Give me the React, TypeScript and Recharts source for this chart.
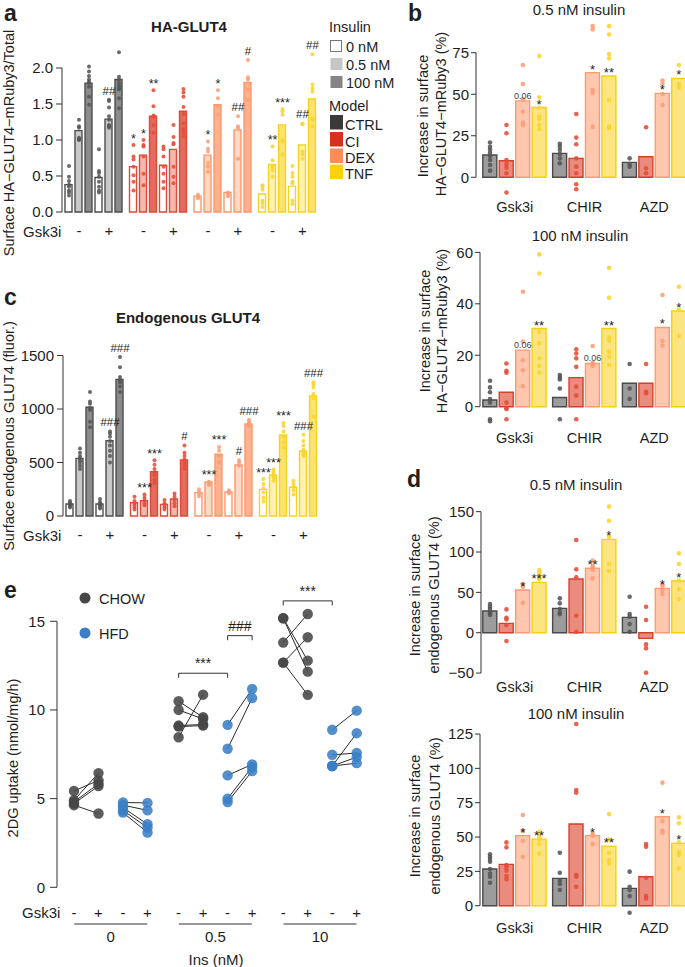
import React from "react";
import {
  ComposedChart,
  Bar,
  Scatter,
  XAxis,
  YAxis,
  ReferenceLine,
  Cell,
  LabelList,
} from "recharts";

const FONT = "'Liberation Sans', Arial, Helvetica, sans-serif";
const PAGE_W = 685;
const PAGE_H = 967;
const INK = "#1e1e1e";
const AXIS = "#333333";

const models = ["CTRL", "CI", "DEX", "TNF"];
const insulinLevels = ["0 nM", "0.5 nM", "100 nM"];
const gsk3iSigns = ["-", "+"];
const drugs = ["Gsk3i", "CHIR", "AZD"];
const uptakeIns = ["0", "0.5", "10"];

// a: surface HA-GLUT4-mRuby3 / total. per model: 0, 0.5, 100 nM (-Gsk3i), then 0, 0.5, 100 nM (+Gsk3i)
const haTicks = [0, 0.5, 1, 1.5, 2];
const haMeans = [
  [0.38, 1.13, 1.79, 0.48, 1.29, 1.84],
  [0.63, 0.79, 1.33, 0.65, 0.87, 1.4],
  [0.22, 0.79, 1.49, 0.27, 1.14, 1.8],
  [0.25, 0.66, 1.21, 0.36, 0.93, 1.57],
];
const haDots = [
  [
    [0.64, 0.49, 0.43, 0.38, 0.35, 0.3, 0.27, 0.23],
    [1.28, 1.19, 1.17, 1.03, 1.01, 1.0],
    [2.02, 1.95, 1.89, 1.84, 1.81, 1.79, 1.74, 1.6, 1.49],
    [0.87, 0.57, 0.54, 0.49, 0.42, 0.35, 0.3, 0.27],
    [1.56, 1.54, 1.45, 1.33, 1.28, 1.21, 1.19, 1.17],
    [2.22, 1.88, 1.84, 1.79, 1.75, 1.72, 1.7, 1.58, 1.44],
  ],
  [
    [0.93, 0.77, 0.73, 0.63, 0.51, 0.42, 0.3],
    [1.0, 0.93, 0.91, 0.77, 0.53, 0.37],
    [1.69, 1.47, 1.34, 1.32, 1.21, 1.1],
    [0.91, 0.87, 0.77, 0.63, 0.53, 0.42, 0.33],
    [1.21, 1.04, 0.96, 0.94, 0.63, 0.49, 0.4],
    [1.71, 1.66, 1.6, 1.46, 1.36, 1.23, 1.15, 1.1, 1.05],
  ],
  [
    [0.24, 0.21, 0.19],
    [0.98, 0.88, 0.84, 0.68, 0.63, 0.56],
    [1.69, 1.58, 1.47, 1.35],
    [0.27, 0.24, 0.22],
    [1.33, 1.19, 1.16, 0.74],
    [2.11, 1.87, 1.84, 1.7, 1.56],
  ],
  [
    [0.37, 0.35, 0.31, 0.16, 0.12, 0.07],
    [0.91, 0.72, 0.63, 0.6, 0.58, 0.49],
    [1.43, 1.4, 1.35, 1.0, 0.98, 0.8],
    [0.64, 0.54, 0.49, 0.42, 0.4, 0.16, 0.11],
    [1.23, 1.22, 0.84, 0.8, 0.74],
    [2.19, 1.77, 1.72, 1.67, 1.3, 1.28, 1.19],
  ],
];
const haSig = [
  ["", "", "", "", "##", ""],
  ["*", "*", "**", "", "", ""],
  ["", "*", "*", "", "##", "#"],
  ["", "**", "***", "", "##", "##"],
];

// c: endogenous GLUT4, same layout as a
const endoTicks = [0, 500, 1000, 1500];
const endoMeans = [
  [112, 539, 1016, 112, 704, 1277],
  [124, 143, 414, 109, 159, 523],
  [218, 318, 577, 224, 477, 860],
  [249, 383, 757, 268, 607, 1121],
];
const endoDots = [
  [
    [140, 125, 110, 100, 90, 80],
    [630, 590, 560, 540, 520, 500, 470, 440],
    [1160, 1070, 1050, 1010, 990, 880, 830],
    [160, 130, 115, 100, 85, 70],
    [790, 770, 740, 700, 660, 610, 560, 500],
    [1485, 1390, 1300, 1270, 1250, 1210, 1160],
  ],
  [
    [180, 140, 120, 100, 80, 60],
    [200, 170, 145, 120, 100],
    [520, 480, 440, 410, 380, 340, 310],
    [150, 120, 100, 80, 60],
    [210, 180, 150, 120, 90],
    [660, 590, 560, 530, 500, 470, 440],
  ],
  [
    [250, 225, 205, 185],
    [320, 310, 300, 290],
    [645, 610, 560, 500],
    [240, 225, 210],
    [520, 500, 470],
    [900, 880, 860, 840],
  ],
  [
    [345, 300, 260, 220, 170, 135],
    [435, 410, 385, 360, 330],
    [870, 840, 790, 740, 690, 640],
    [330, 300, 270, 240, 200],
    [760, 700, 660, 620, 600, 580, 560],
    [1250, 1230, 1200, 1140, 1100, 930],
  ],
];
const endoSig = [
  ["", "", "", "", "###", "###"],
  ["", "***", "***", "", "", "#"],
  ["", "***", "***", "", "#", "###"],
  ["***", "***", "***", "", "###", "###"],
];

// b: increase in surface HA-GLUT4 (%), rows = drug, cols = model
const haInc05Ticks = [0, 25, 50, 75];
const haInc05Means = [
  [13.4, 10.0, 46.0, 42.0],
  [14.4, 11.4, 63.0, 61.0],
  [9.0, 12.4, 50.5, 59.5],
];
const haInc05Dots = [
  [
    [20.9, 18.4, 16.8, 14.8, 12.8, 10.4, 7.4, 4.0],
    [31.5, 26.5, 10.4, 8.0, 5.8, 2.4, -9.2],
    [67.6, 56.1, 46.9, 39.5, 32.9, 31.5],
    [73.0, 48.1, 41.9, 36.5, 34.9, 31.5, 28.9],
  ],
  [
    [20.1, 18.4, 16.4, 14.0, 11.4, 8.4],
    [38.1, 23.9, 19.9, 11.4, 6.4, 2.4, -4.2, -7.2],
    [91.0, 89.0, 52.5, 50.9, 30.5],
    [91.0, 86.0, 74.2, 71.6, 46.5, 30.5, 29.5],
  ],
  [
    [11.4, 8.0, 6.4],
    [30.1, 5.4, 2.4],
    [58.2, 56.1, 50.1, 43.5],
    [67.6, 56.1, 54.1],
  ],
];
const haInc05Sig = [
  ["", "", "0.06", "*"],
  ["", "", "*", "**"],
  ["", "", "*", "*"],
];

const haInc100Ticks = [0, 20, 40, 60];
const haInc100Means = [
  [2.6, 5.6, 22.0, 30.4],
  [3.6, 11.3, 16.8, 30.4],
  [9.1, 9.1, 30.8, 37.2],
];
const haInc100Dots = [
  [
    [10.1, 7.5, 5.6, 3.0, 1.6, -4.9, -5.6],
    [16.8, 14.0, 13.2, 1.6, -0.6, -0.9, -4.9],
    [44.7, 25.3, 18.1, 14.2, 8.0],
    [59.2, 51.8, 29.1, 24.6, 18.8, 15.9, 13.3],
  ],
  [
    [12.3, 11.4, 10.6, 7.1, -4.9],
    [22.3, 20.7, 18.8, 15.5, 7.8, 4.3, -4.9],
    [23.6, 17.1, 16.6, 15.9],
    [54.0, 42.4, 26.9, 25.6, 21.4, 19.4, 16.2],
  ],
  [
    [16.6, 7.1, 3.0],
    [16.6, 5.8, 5.2],
    [43.4, 25.5, 23.7],
    [46.6, 37.6, 27.6],
  ],
];
const haInc100Sig = [
  ["", "", "0.06", "**"],
  ["", "", "0.06", "**"],
  ["", "", "*", "*"],
];

// d: increase in surface endogenous GLUT4 (%)
const endoInc05Ticks = [-50, 0, 50, 100, 150];
const endoInc05Means = [
  [26.9, 11.6, 52.9, 62.4],
  [30.2, 66.5, 79.8, 115.7],
  [19.0, -7.0, 55.0, 64.0],
];
const endoInc05Dots = [
  [
    [35.5, 32.2, 29.3, 26.0, 24.0, 21.9],
    [28.9, 18.6, 16.5, 9.5, -10.3],
    [59.9, 57.0, 37.2],
    [77.7, 74.8, 71.5, 67.4, 66.5],
  ],
  [
    [42.6, 36.4, 29.3, 24.8, 23.1],
    [114.9, 78.5, 68.6, 21.1, 1.2],
    [89.3, 82.6, 80.6, 77.7, 67.4],
    [156.2, 138.8, 119.0, 85.1, 76.4],
  ],
  [
    [44.6, 23.1, 19.8, 10.7, 1.2],
    [32.2, 15.7, -14.5, -19.4, -49.6],
    [59.9, 57.9, 52.9, 47.9],
    [98.3, 85.1, 64.5, 53.7, 41.7],
  ],
];
const endoInc05Sig = [
  ["", "", "*", "***"],
  ["", "", "**", "*"],
  ["", "", "*", "*"],
];

const endoInc100Ticks = [0, 25, 50, 75, 100, 125];
const endoInc100Means = [
  [26.7, 30.1, 51.0, 48.5],
  [19.9, 59.5, 51.0, 43.4],
  [12.6, 21.1, 64.8, 45.4],
];
const endoInc100Dots = [
  [
    [37.4, 35.7, 34.0, 32.0, 26.7, 23.5, 21.1, 16.7],
    [46.1, 42.5, 29.6, 27.9, 25.5, 21.6, 19.2],
    [66.0, 54.4, 47.3, 35.7],
    [53.9, 52.2, 50.2, 48.3, 44.9, 38.1],
  ],
  [
    [38.6, 24.0, 18.2, 15.8, 11.4],
    [132.3, 84.2, 82.3, 22.3, 21.1, 13.8],
    [52.2, 51.0, 45.0],
    [66.7, 48.3, 38.6, 33.3, 30.8],
  ],
  [
    [24.8, 13.8, 11.4, 7.0, -5.1],
    [44.9, 43.0, 20.4, 7.0, 5.3],
    [89.6, 61.7, 54.6, 53.2],
    [64.3, 60.0, 46.1, 38.8, 36.9, 27.2],
  ],
];
const endoInc100Sig = [
  ["", "", "*", "**"],
  ["", "", "*", "**"],
  ["", "", "*", "*"],
];

// e: 2DG uptake, paired (-Gsk3i, +Gsk3i) per insulin dose
const uptakeTicks = [0, 5, 10, 15];
const chowPairs = [
  [[5.43, 6.03], [4.91, 6.44], [4.81, 5.84], [4.72, 5.71], [4.63, 4.16]],
  [[10.49, 9.59], [10.0, 9.49], [9.12, 9.18], [9.06, 9.12], [8.46, 10.86]],
  [[15.17, 12.78], [15.17, 12.16], [13.8, 15.41], [12.67, 14.1], [12.67, 10.85]],
];
const hfdPairs = [
  [[4.78, 4.76], [4.63, 4.34], [4.49, 3.56], [4.34, 3.37], [4.21, 3.09]],
  [[9.16, 11.18], [7.81, 10.67], [6.31, 6.93], [5.0, 6.78], [4.81, 6.55]],
  [[8.88, 9.96], [6.84, 8.69], [7.47, 7.57], [6.84, 7.34], [6.84, 7.0]],
];
// [dose, slot] to [dose, slot], bracket height, label
const uptakeBrackets = [
  { from: [1, 0], to: [1, 2], y: 12.07, label: "***" },
  { from: [1, 2], to: [1, 3], y: 14.19, label: "###" },
  { from: [2, 0], to: [2, 2], y: 16.15, label: "***" },
];

const modelColor = ["#3a3a3a", "#d7301f", "#fc8d59", "#fdd20a"];
const levelFill = [
  ["#ffffff", "#c9c9c9", "#8b8b8b"],
  ["#ffffff", "#f4b8ae", "#e46b5d"],
  ["#ffffff", "#fed9c6", "#fdb18f"],
  ["#ffffff", "#fef1b3", "#fce36e"],
];
const levelStroke = ["#4d4d4d", "#dd4a37", "#fc976a", "#f8d21c"];
const dotColor = ["#555555", "#e24c39", "#fc9d77", "#fbd430"];
const incFill = ["#9c9c9c", "#e98b7d", "#fec7ae", "#fce581"];
const incStroke = ["#4a4a4a", "#d73f2b", "#fc9b70", "#f6d00c"];
const chowColor = "#474747";
const hfdColor = "#3b80c6";

const dotShape = (r: number, color: string) => (p: any) =>
  <circle cx={p.cx} cy={p.cy} r={r} fill={color} fillOpacity={0.88} />;
const noShape = () => <g />;

const sigShape = (p: any) => {
  const label = p.payload?.label ?? "";
  const hash = label.includes("#");
  return (
    <text x={p.cx} y={p.cy - (hash ? 5 : 2.5)} textAnchor="middle" fontSize={hash ? 11.5 : 12.5} fill={INK}>
      {label}
    </text>
  );
};

const barSigLabel = (p: any) => {
  if (!p.value) return null;
  const cx = p.x + p.width / 2;
  if (p.value === "0.06") {
    return <text x={cx} y={p.y - 2} textAnchor="middle" fontSize={9} fill="#444">{p.value}</text>;
  }
  return <text x={cx} y={p.y + 1} textAnchor="middle" fontSize={13} fill={INK}>{p.value}</text>;
};

const negFmt = (v: number) => (v < 0 ? "\u2212" + Math.abs(v) : String(v));

function InsulinPanel({ means, dots, sig, ticks, domain, box, fmt }: any) {
  const pos = (m: number, k: number) => m * 6.45 + k;
  const rows = means.flatMap((row: number[], m: number) => row.map((v, k) => ({ x: pos(m, k), y: v, m, k })));
  const dotRows = (m: number) =>
    dots[m].flatMap((set: number[], k: number) => set.map((v) => ({ x: pos(m, k), y: v })));
  const sigRows = means
    .flatMap((row: number[], m: number) =>
      row.map((_, k) => ({ x: pos(m, k), y: Math.max(...dots[m][k]), label: sig[m][k] })))
    .filter((r: any) => r.label);
  const xTicks = models.flatMap((_, m) => [pos(m, 1), pos(m, 4)]);
  const xAxisH = 30;
  return (
    <div style={{ position: "absolute", left: 0, top: 0 }}>
      <ComposedChart
        width={PAGE_W}
        height={PAGE_H}
        data={rows}
        margin={{ left: 0, top: box.top, right: PAGE_W - box.right, bottom: PAGE_H - box.bottom - xAxisH }}
      >
        <XAxis
          type="number"
          dataKey="x"
          domain={[box.xMin, box.xMax]}
          ticks={xTicks}
          interval={0}
          tickFormatter={(_v: number, i: number) => gsk3iSigns[i % 2]}
          axisLine={false}
          tickLine={false}
          tickSize={0}
          tickMargin={13.5}
          height={xAxisH}
          tick={{ fontSize: 15, fill: INK }}
        />
        <YAxis
          type="number"
          dataKey="y"
          domain={domain}
          ticks={ticks}
          interval={0}
          tickFormatter={fmt}
          axisLine={false}
          tickLine={{ stroke: AXIS }}
          tickSize={6}
          tickMargin={3}
          width={box.left}
          tick={{ fontSize: 15, fill: INK }}
        />
        <ReferenceLine
          segment={[{ x: box.xMin, y: ticks[0] }, { x: box.xMin, y: ticks[ticks.length - 1] }]}
          stroke={AXIS}
          ifOverflow="visible"
        />
        <Bar dataKey="y" barSize={7} strokeWidth={1.4} isAnimationActive={false}>
          {rows.map((r: any, i: number) => (
            <Cell key={i} fill={levelFill[r.m][r.k % 3]} stroke={levelStroke[r.m]} />
          ))}
        </Bar>
        {models.map((_, m) => (
          <Scatter key={m} data={dotRows(m)} shape={dotShape(2, dotColor[m])} isAnimationActive={false} />
        ))}
        <Scatter data={sigRows} shape={sigShape} isAnimationActive={false} />
      </ComposedChart>
    </div>
  );
}

function IncreasePanel({ means, dots, sig, ticks, domain, box, tickMargin }: any) {
  const pos = (g: number, j: number) => g * 4.25 + j;
  const rows = means.flatMap((row: number[], g: number) =>
    row.map((v, j) => ({ x: pos(g, j), y: v, j, sig: sig[g][j] })));
  const dotRows = (j: number) =>
    dots.flatMap((grp: number[][], g: number) => grp[j].map((v) => ({ x: pos(g, j), y: v })));
  const xTicks = drugs.map((_, g) => pos(g, 1.5));
  const xAxisH = 20;
  return (
    <div style={{ position: "absolute", left: 0, top: 0 }}>
      <ComposedChart
        width={PAGE_W}
        height={PAGE_H}
        data={rows}
        margin={{ left: box.left - 40, top: box.top, right: PAGE_W - box.right, bottom: PAGE_H - box.bottom - xAxisH }}
      >
        <XAxis
          type="number"
          dataKey="x"
          domain={[box.xMin, box.xMax]}
          ticks={xTicks}
          interval={0}
          tickFormatter={(_v: number, i: number) => drugs[i]}
          axisLine={false}
          tickLine={false}
          tickSize={0}
          tickMargin={tickMargin}
          height={xAxisH}
          tick={{ fontSize: 14.5, fill: INK }}
        />
        <YAxis
          type="number"
          dataKey="y"
          domain={domain}
          ticks={ticks}
          interval={0}
          tickFormatter={negFmt}
          axisLine={false}
          tickLine={{ stroke: AXIS }}
          tickSize={5}
          tickMargin={2}
          width={40}
          tick={{ fontSize: 15, fill: INK }}
        />
        <ReferenceLine
          segment={[{ x: box.xMin, y: ticks[0] }, { x: box.xMin, y: ticks[ticks.length - 1] }]}
          stroke={AXIS}
          ifOverflow="visible"
        />
        <Bar dataKey="y" barSize={14} strokeWidth={1.4} isAnimationActive={false}>
          {rows.map((r: any, i: number) => (
            <Cell key={i} fill={incFill[r.j]} stroke={incStroke[r.j]} />
          ))}
          <LabelList dataKey="sig" content={barSigLabel} />
        </Bar>
        {models.map((_, j) => (
          <Scatter key={j} data={dotRows(j)} shape={dotShape(2.3, dotColor[j])} isAnimationActive={false} />
        ))}
      </ComposedChart>
    </div>
  );
}

function UptakePanel() {
  const pos = (g: number, i: number) => g * 4.27 + i;
  const xMin = -0.694;
  const xMax = 12.286;
  const box = { left: 57, top: 585.8, right: 375, bottom: 887.3 };
  const signH = 28;
  const groupH = 40;
  const links = (pairs: number[][][], slot: number) =>
    pairs.flatMap((set, g) =>
      set.map(([a, b]) => [{ x: pos(g, slot), y: a }, { x: pos(g, slot + 1), y: b }]));
  const chowLinks = links(chowPairs, 0);
  const hfdLinks = links(hfdPairs, 2);
  const signTicks = uptakeIns.flatMap((_, g) => [0, 1, 2, 3].map((i) => pos(g, i)));
  const groupTicks = uptakeIns.map((_, g) => pos(g, 1.5));
  const groupAnchors = groupTicks.map((x) => ({ x, y: 0 }));
  const groupTick = (p: any) => (
    <g>
      <line x1={p.x - 36.5} x2={p.x + 36.5} y1={p.y + 8.7} y2={p.y + 8.7} stroke={AXIS} />
      <text x={p.x} y={p.y + 26.7} textAnchor="middle" fontSize={15} fill={INK}>
        {uptakeIns[p.index]}
      </text>
    </g>
  );
  return (
    <div style={{ position: "absolute", left: 0, top: 0 }}>
      <ComposedChart
        width={PAGE_W}
        height={PAGE_H}
        margin={{ left: 0, top: box.top, right: PAGE_W - box.right, bottom: PAGE_H - box.bottom - signH - groupH }}
      >
        <XAxis
          type="number"
          dataKey="x"
          domain={[xMin, xMax]}
          ticks={signTicks}
          interval={0}
          tickFormatter={(_v: number, i: number) => gsk3iSigns[i % 2]}
          axisLine={false}
          tickLine={false}
          tickSize={0}
          tickMargin={20}
          height={signH}
          tick={{ fontSize: 15, fill: INK }}
        />
        <XAxis
          xAxisId="grp"
          type="number"
          dataKey="x"
          domain={[xMin, xMax]}
          ticks={groupTicks}
          interval={0}
          axisLine={false}
          tickLine={false}
          tickSize={0}
          tickMargin={0}
          height={groupH}
          tick={groupTick}
        />
        <YAxis
          type="number"
          dataKey="y"
          domain={[0, 17]}
          ticks={uptakeTicks}
          interval={0}
          axisLine={false}
          tickLine={{ stroke: AXIS }}
          tickSize={7}
          tickMargin={5}
          width={box.left}
          tick={{ fontSize: 15, fill: INK }}
        />
        <ReferenceLine segment={[{ x: xMin, y: 0 }, { x: xMin, y: 15 }]} stroke={AXIS} ifOverflow="visible" />
        <Scatter xAxisId="grp" data={groupAnchors} shape={noShape} isAnimationActive={false} />
        {chowLinks.concat(hfdLinks).map((pts, i) => (
          <Scatter
            key={"link" + i}
            data={pts}
            line={{ stroke: "#2b2b2b", strokeWidth: 1 }}
            shape={noShape}
            isAnimationActive={false}
          />
        ))}
        <Scatter data={chowLinks.flat()} shape={dotShape(5.2, chowColor)} isAnimationActive={false} />
        <Scatter data={hfdLinks.flat()} shape={dotShape(5.2, hfdColor)} isAnimationActive={false} />
        {uptakeBrackets.map((b, i) => {
          const x1 = pos(b.from[0], b.from[1]);
          const x2 = pos(b.to[0], b.to[1]);
          return (
            <React.Fragment key={"br" + i}>
              <ReferenceLine
                segment={[{ x: x1, y: b.y }, { x: x2, y: b.y }]}
                stroke={AXIS}
                ifOverflow="visible"
                label={{ value: b.label, position: "top", offset: 5, fontSize: 14, fill: INK }}
              />
              <ReferenceLine segment={[{ x: x1, y: b.y }, { x: x1, y: b.y - 0.26 }]} stroke={AXIS} ifOverflow="visible" />
              <ReferenceLine segment={[{ x: x2, y: b.y }, { x: x2, y: b.y - 0.26 }]} stroke={AXIS} ifOverflow="visible" />
            </React.Fragment>
          );
        })}
      </ComposedChart>
    </div>
  );
}

function Overlay() {
  const vlabel = (x: number, y: number, s: string) => (
    <text transform={`translate(${x},${y}) rotate(-90)`} textAnchor="middle" fontSize={14.5}>
      {s}
    </text>
  );
  const title = (x: number, y: number, s: string, bold = false) => (
    <text x={x} y={y} textAnchor="middle" fontSize={15} fontWeight={bold ? "bold" : "normal"}>
      {s}
    </text>
  );
  const letter = (x: number, y: number, s: string) => (
    <text x={x} y={y} fontSize={23} fontWeight="bold">
      {s}
    </text>
  );
  const insBoxes = [
    { y: 40.5, h: 11, fill: "#ffffff", stroke: "#777" },
    { y: 58, h: 12, fill: "#c6c6c6", stroke: "none" },
    { y: 76, h: 12, fill: "#848484", stroke: "none" },
  ];
  const modelBoxes = [115, 132, 148.5, 164.5];
  return (
    <svg
      width={PAGE_W}
      height={PAGE_H}
      style={{ position: "absolute", left: 0, top: 0, pointerEvents: "none" }}
      fontFamily={FONT}
      fill={INK}
    >
      {letter(4, 21, "a")}
      {letter(408, 21, "b")}
      {letter(4, 305, "c")}
      {letter(407, 487, "d")}
      {letter(4, 598, "e")}

      {title(189, 31.7, "HA-GLUT4", true)}
      {title(188, 323.3, "Endogenous GLUT4", true)}
      {title(579, 15, "0.5 nM insulin")}
      {title(580, 241, "100 nM insulin")}
      {title(576, 490, "0.5 nM insulin")}
      {title(576, 719.3, "100 nM insulin")}

      {vlabel(14, 143, "Surface HA\u2212GLUT4\u2212mRuby3/Total")}
      {vlabel(14, 436, "Surface endogenous GLUT4 (fluor.)")}
      {vlabel(428, 116, "Increase in surface")}
      {vlabel(446, 114, "HA\u2212GLUT4\u2212mRuby3 (%)")}
      {vlabel(430, 331, "Increase in surface")}
      {vlabel(447, 331, "HA\u2212GLUT4\u2212mRuby3 (%)")}
      {vlabel(419.5, 595, "Increase in surface")}
      {vlabel(439, 595, "endogenous GLUT4 (%)")}
      {vlabel(419.5, 816, "Increase in surface")}
      {vlabel(439.5, 816, "endogenous GLUT4 (%)")}
      {vlabel(18, 758, "2DG uptake (nmol/mg/h)")}

      <text x={23} y={236.5} fontSize={15}>Gsk3i</text>
      <text x={23} y={541} fontSize={15}>Gsk3i</text>
      <text x={22} y={918} fontSize={15}>Gsk3i</text>
      <text x={216} y={965} fontSize={15} textAnchor="middle">Ins (nM)</text>

      <text x={329} y={31.5} fontSize={14.5}>Insulin</text>
      {insBoxes.map((b, i) => (
        <g key={"ins" + i}>
          <rect x={330.5} y={b.y} width={b.h} height={b.h} fill={b.fill} stroke={b.stroke} />
          <text x={346} y={b.y + b.h} fontSize={14.5}>{insulinLevels[i]}</text>
        </g>
      ))}
      <text x={329} y={110.5} fontSize={14.5}>Model</text>
      {modelBoxes.map((y, i) => (
        <g key={"mod" + i}>
          <rect x={330} y={y} width={13} height={14.5} fill={modelColor[i]} />
          <text x={345} y={y + 14.5} fontSize={14.5}>{models[i]}</text>
        </g>
      ))}

      <circle cx={85} cy={598} r={5.5} fill={chowColor} />
      <text x={99} y={603.5} fontSize={14.5}>CHOW</text>
      <circle cx={85} cy={633} r={5.5} fill={hfdColor} />
      <text x={99} y={638.5} fontSize={14.5}>HFD</text>
    </svg>
  );
}

export default function App() {
  return (
    <div
      style={{
        position: "absolute",
        left: 0,
        top: 0,
        width: PAGE_W,
        height: PAGE_H,
        background: "#ffffff",
        fontFamily: FONT,
        overflow: "hidden",
      }}
    >
      <InsulinPanel
        means={haMeans}
        dots={haDots}
        sig={haSig}
        ticks={haTicks}
        domain={[0, 2.4]}
        box={{ left: 62, top: 39.2, right: 320, bottom: 212, xMin: -0.7, xMax: 25.1 }}
        fmt={(v: number) => v.toFixed(1)}
      />
      <InsulinPanel
        means={endoMeans}
        dots={endoDots}
        sig={endoSig}
        ticks={endoTicks}
        domain={[0, 1600]}
        box={{ left: 63, top: 344.8, right: 321, bottom: 516, xMin: -0.7, xMax: 25.1 }}
        fmt={(v: number) => String(v)}
      />
      <IncreasePanel
        means={haInc05Means}
        dots={haInc05Dots}
        sig={haInc05Sig}
        ticks={haInc05Ticks}
        domain={[-15, 95]}
        box={{ left: 476, top: 19.5, right: 685, bottom: 202.2, xMin: -0.854, xMax: 11.87 }}
        tickMargin={0}
      />
      <IncreasePanel
        means={haInc100Means}
        dots={haInc100Dots}
        sig={haInc100Sig}
        ticks={haInc100Ticks}
        domain={[-8, 62]}
        box={{ left: 480, top: 247.2, right: 685, bottom: 427.3, xMin: -0.61, xMax: 11.87 }}
        tickMargin={5.6}
      />
      <IncreasePanel
        means={endoInc05Means}
        dots={endoInc05Dots}
        sig={endoInc05Sig}
        ticks={endoInc05Ticks}
        domain={[-55, 160]}
        box={{ left: 481, top: 503.6, right: 685, bottom: 677.1, xMin: -0.549, xMax: 11.87 }}
        tickMargin={4.8}
      />
      <IncreasePanel
        means={endoInc100Means}
        dots={endoInc100Dots}
        sig={endoInc100Sig}
        ticks={endoInc100Ticks}
        domain={[-8, 135]}
        box={{ left: 480, top: 720.3, right: 685, bottom: 916.7, xMin: -0.61, xMax: 11.87 }}
        tickMargin={6.2}
      />
      <UptakePanel />
      <Overlay />
    </div>
  );
}
